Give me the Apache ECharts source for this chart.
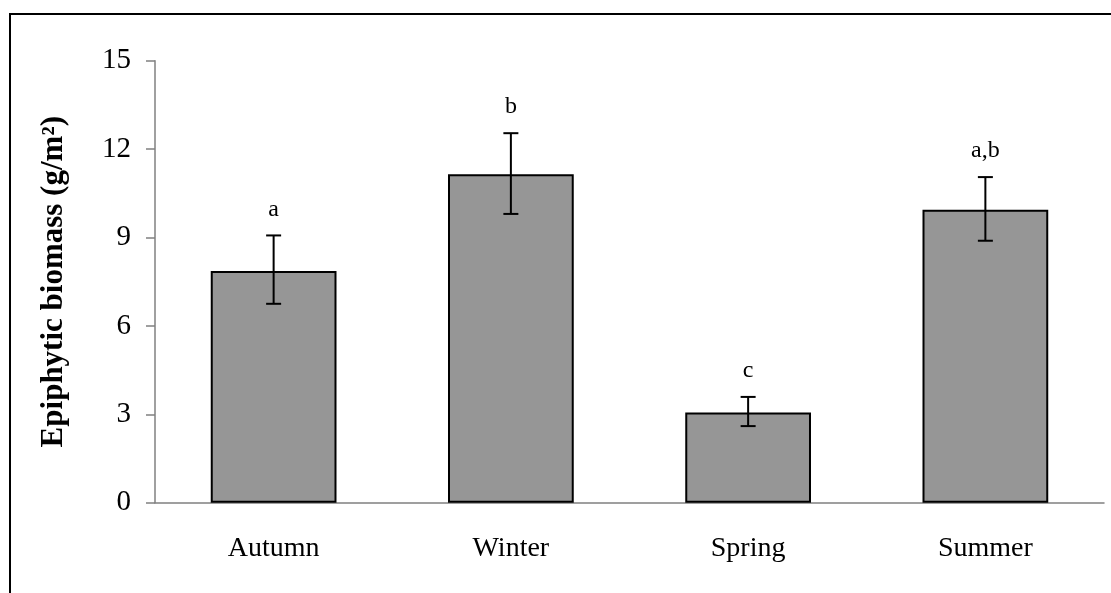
<!DOCTYPE html>
<html>
<head>
<meta charset="utf-8">
<script src="https://cdn.jsdelivr.net/npm/echarts@6/dist/echarts.min.js"></script>
<style>html,body{margin:0;padding:0;background:#fff;}#c{width:1111px;height:593px;}</style>
</head>
<body>
<div id="c"></div>
<script>
var categories = ['Autumn', 'Winter', 'Spring', 'Summer'];
var means = [7.86, 11.15, 3.06, 9.94];
var errUpper = [9.07, 12.54, 3.59, 11.05];
var errLower = [6.75, 9.80, 2.60, 8.89];
var sigLetters = ['a', 'b', 'c', 'a,b'];
var yTicks = [0, 3, 6, 9, 12, 15];

var chart = echarts.init(document.getElementById('c'), null, {renderer: 'canvas'});
var serif = '"Liberation Serif", "Times New Roman", serif';

var errData = categories.map(function (c, i) { return [i, errLower[i], errUpper[i], sigLetters[i]]; });

chart.setOption({
  animation: false,
  backgroundColor: '#ffffff',
  graphic: [{
    type: 'rect', shape: {x: 10, y: 14, width: 1120, height: 620},
    style: {fill: 'none', stroke: '#000', lineWidth: 2}, silent: true, z: 100
  }],
  grid: {left: 155, right: 7, top: 60.7, bottom: 90.3, containLabel: false},
  xAxis: {
    type: 'category', data: categories,
    axisLine: {show: true, lineStyle: {color: '#808080', width: 1.5}},
    axisTick: {show: false},
    axisLabel: {color: '#000', fontFamily: serif, fontSize: 28, margin: 32}
  },
  yAxis: {
    type: 'value', min: yTicks[0], max: yTicks[yTicks.length - 1], interval: 3,
    name: 'Epiphytic biomass (g/m²)',
    nameLocation: 'middle', nameGap: 86, nameRotate: 90,
    nameTextStyle: {color: '#000', fontFamily: serif, fontSize: 31, fontWeight: 'bold'},
    axisLine: {show: true, lineStyle: {color: '#808080', width: 1.5}},
    axisTick: {show: true, inside: false, length: 9, lineStyle: {color: '#808080', width: 1.5}},
    axisLabel: {color: '#000', fontFamily: serif, fontSize: 29, margin: 24},
    splitLine: {show: false}
  },
  series: [{
    type: 'bar', data: means, barWidth: '53%',
    itemStyle: {color: '#969696', borderColor: '#000', borderWidth: 2}
  }, {
    type: 'custom', data: errData, z: 10,
    renderItem: function (params, api) {
      var x = api.value(0);
      var lo = api.coord([x, api.value(1)]);
      var hi = api.coord([x, api.value(2)]);
      var half = 7.5;
      return {
        type: 'group',
        children: [
          {type: 'line', shape: {x1: hi[0], y1: hi[1], x2: lo[0], y2: lo[1]}, style: {stroke: '#000', lineWidth: 2}},
          {type: 'line', shape: {x1: hi[0] - half, y1: hi[1], x2: hi[0] + half, y2: hi[1]}, style: {stroke: '#000', lineWidth: 2}},
          {type: 'line', shape: {x1: lo[0] - half, y1: lo[1], x2: lo[0] + half, y2: lo[1]}, style: {stroke: '#000', lineWidth: 2}},
          {type: 'text', x: hi[0], y: hi[1] - 14, style: {text: api.value(3), fill: '#000', font: '24px ' + serif, textAlign: 'center', textVerticalAlign: 'bottom'}}
        ]
      };
    }
  }]
});
</script>
</body>
</html>
